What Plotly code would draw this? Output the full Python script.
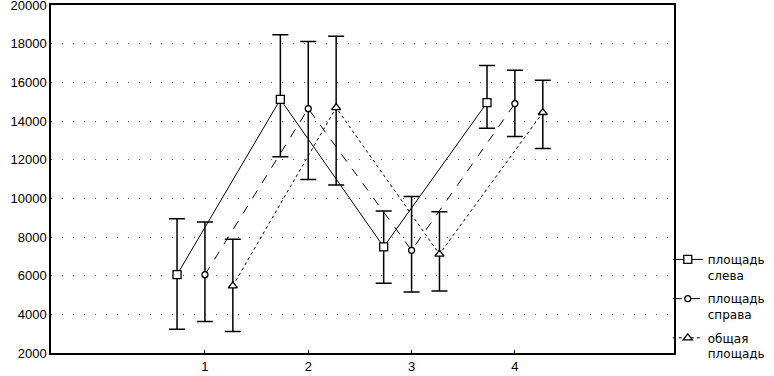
import plotly.graph_objects as go

categories = [1, 2, 3, 4]
tick_labels = ["1", "2", "3", "4"]

names = ["площадь<br>слева", "площадь<br>справа", "общая<br>площадь"]

left_mean = [6050, 15120, 7490, 14950]
left_upper = [8950, 18460, 9350, 16870]
left_lower = [3230, 12150, 5610, 13620]

right_mean = [6050, 14640, 7310, 14900]
right_upper = [8780, 18110, 10090, 16630]
right_lower = [3630, 10980, 5160, 13200]

total_mean = [5470, 14690, 7110, 14440]
total_upper = [7880, 18390, 9310, 16110]
total_lower = [3110, 10690, 5210, 12580]

series = [
    (left_mean, left_upper, left_lower, -0.27, "solid", "square", 8),
    (right_mean, right_upper, right_lower, 0.0, "dash", "circle", 6),
    (total_mean, total_upper, total_lower, 0.27, "dot", "triangle-up", 8),
]

fig = go.Figure()
for i, (name, (m, u, l, off, dash, sym, sz)) in enumerate(zip(names, series)):
    fig.add_trace(go.Scatter(
        x=[c + off for c in categories],
        y=m,
        mode="lines+markers",
        name=name,
        legendgroup=f"g{i}",
        line=dict(color="black", width=1, dash=dash),
        marker=dict(symbol=sym, size=sz, color="white", line=dict(color="black", width=1.3)),
        error_y=dict(
            type="data", symmetric=False,
            array=[a - b for a, b in zip(u, m)],
            arrayminus=[b - a for a, b in zip(l, m)],
            color="black", thickness=1.5, width=8,
        ),
    ))

font = dict(family="Liberation Sans, Arial, sans-serif", size=13, color="black")

fig.update_layout(
    width=774, height=376,
    margin=dict(l=51, r=100, t=5, b=23, autoexpand=False),
    paper_bgcolor="white", plot_bgcolor="white",
    font=font,
    showlegend=True,
    legend=dict(
        x=0.99, y=0.31, xanchor="left", yanchor="top",
        font=dict(family="DejaVu Sans, sans-serif", size=12, color="black"),
        tracegroupgap=5, itemwidth=30, bgcolor="rgba(0,0,0,0)",
        valign="top",
    ),
)

fig.update_xaxes(
    range=[-0.49, 5.54],
    tickvals=categories, ticktext=tick_labels,
    showgrid=False, zeroline=False,
    showline=True, linecolor="black", linewidth=2, mirror=True,
    ticks="inside", ticklen=3, tickcolor="black",
    tickfont=font, automargin=False, ticklabelstandoff=0,
    ticklabeloverflow="allow",
)
fig.update_yaxes(
    range=[2000, 20000],
    tickvals=list(range(2000, 20001, 2000)),
    tickformat="d",
    showgrid=True, gridcolor="#666666", gridwidth=1, griddash="1px,10px",
    zeroline=False,
    showline=True, linecolor="black", linewidth=1.5, mirror=True,
    ticks="", tickfont=font, automargin=False,
    ticklabeloverflow="allow",
)

fig.write_html(
    "out.html",
    config={"displayModeBar": False},
    post_script="document.body.style.margin='0';document.body.style.padding='0';",
)
